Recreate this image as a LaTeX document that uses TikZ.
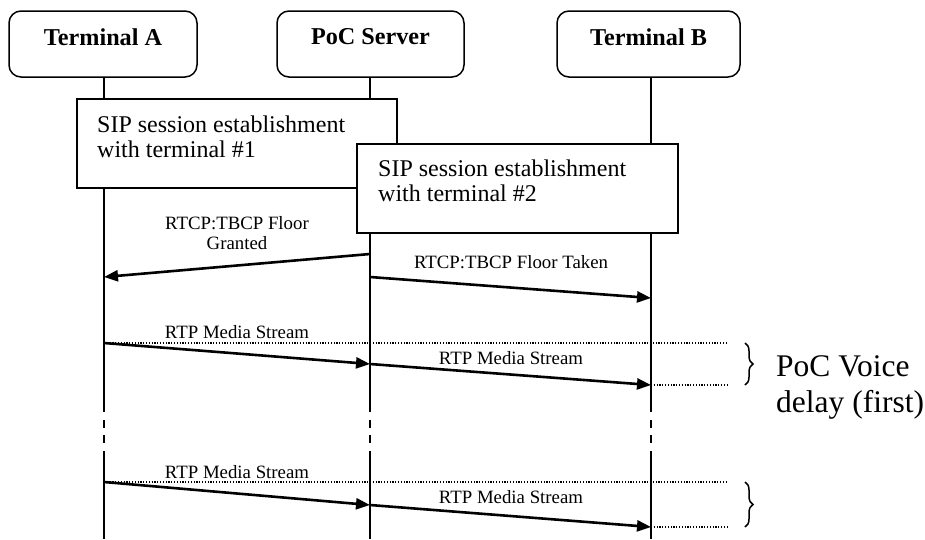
\documentclass[tikz,border=0pt]{standalone}
\usepackage{fontspec}
\setmainfont{Liberation Serif}
\usetikzlibrary{arrows.meta,decorations.pathreplacing}
\begin{document}
\begin{tikzpicture}[x=1pt,y=-1pt,
  headbox/.style={draw,line width=1.5pt,rounded corners=12pt,minimum height=66pt,inner sep=0pt},
  headtext/.style={font=\fontsize{24.2}{28}\selectfont\bfseries,inner sep=0pt},
  sipbox/.style={draw,line width=1.5pt,fill=white,minimum height=89pt,inner sep=0pt},
  siptext/.style={font=\fontsize{24}{25}\selectfont,align=left,anchor=north west,inner sep=0pt},
  life/.style={line width=1.5pt},
  msg/.style={line width=2.6pt,-{Triangle[length=14pt,width=11pt]}},
  lbl/.style={font=\fontsize{18.8}{20}\selectfont,align=center,inner sep=0pt},
  dotline/.style={line width=1.2pt,dash pattern=on 1.2pt off 1.6pt},
  bracestyle/.style={line width=1.5pt,decorate,decoration={brace,amplitude=8pt}},
  bigtext/.style={font=\fontsize{31.5}{36}\selectfont,align=left,anchor=north west,inner sep=0pt},
]
\useasboundingbox (0,0) rectangle (925,539);

% heads
\node[headbox,minimum width=188pt] (ta) at (103,44) {};
\node[headbox,minimum width=187pt] (ps) at (370.5,44) {};
\node[headbox,minimum width=183pt] (tb) at (648.5,44) {};
\node[headtext] (tat) at (103,37) {Terminal A};
\node[headtext] (pst) at (370.5,37) {PoC Server};
\node[headtext] (tbt) at (648.5,37) {Terminal B};

% lifelines
\foreach \n/\x in {ta/104,ps/370,tb/651}{
  \coordinate (\n-top) at (\x,77);
  \coordinate (\n-s1) at (\x,412);
  \coordinate (\n-d1a) at (\x,420);
  \coordinate (\n-d1b) at (\x,428);
  \coordinate (\n-d2a) at (\x,435);
  \coordinate (\n-d2b) at (\x,443);
  \coordinate (\n-s2) at (\x,451);
  \coordinate (\n-end) at (\x,539);
  \draw[life] (\n-top) -- (\n-s1);
  \draw[life] (\n-d1a) -- (\n-d1b);
  \draw[life] (\n-d2a) -- (\n-d2b);
  \draw[life] (\n-s2) -- (\n-end);
}

% SIP boxes
\node[sipbox,minimum width=320pt] (sip1) at (237,143.5) {};
\node[siptext] (sip1t) at (97,116) {SIP session establishment\\with terminal \#1};
\node[sipbox,minimum width=321pt] (sip2) at (517.5,188.5) {};
\node[siptext] (sip2t) at (378,160) {SIP session establishment\\with terminal \#2};

% message points
\coordinate (ps-m1) at (370,254);
\coordinate (ta-m1) at (104,277);
\coordinate (ps-m2) at (370,277);
\coordinate (tb-m2) at (651,298);
\coordinate (ta-r1) at (104,343);
\coordinate (ps-r1) at (370,364);
\coordinate (tb-r1) at (651,385);
\coordinate (ta-r2) at (104,482);
\coordinate (ps-r2) at (370,505);
\coordinate (tb-r2) at (651,527);
\coordinate (e1) at (728,343);
\coordinate (e2) at (728,385);
\coordinate (e3) at (728,482);
\coordinate (e4) at (728,527);
\coordinate (b1a) at (745,343);
\coordinate (b1b) at (745,385);
\coordinate (b2a) at (745,482);
\coordinate (b2b) at (745,527);

% messages
\draw[msg] (ps-m1) -- (ta-m1);
\node[lbl,anchor=north] (l1) at (237,216) {RTCP:TBCP Floor\\Granted};
\draw[msg] (ps-m2) -- (tb-m2);
\node[lbl] (l2) at (511,262) {RTCP:TBCP Floor Taken};

\draw[dotline] (ta-r1) -- (e1);
\draw[msg] (ta-r1) -- (ps-r1);
\draw[msg] (ps-r1) -- (tb-r1);
\draw[dotline] (tb-r1) -- (e2);
\node[lbl] (l3) at (237,332.5) {RTP Media Stream};
\node[lbl] (l4) at (511,358.5) {RTP Media Stream};
\draw[bracestyle] (b1a) -- (b1b);
\node[bigtext] (delay) at (776,355) {PoC Voice\\delay (first)};

\draw[dotline] (ta-r2) -- (e3);
\draw[msg] (ta-r2) -- (ps-r2);
\draw[msg] (ps-r2) -- (tb-r2);
\draw[dotline] (tb-r2) -- (e4);
\node[lbl] (l5) at (237,472.5) {RTP Media Stream};
\node[lbl] (l6) at (511,497) {RTP Media Stream};
\draw[bracestyle] (b2a) -- (b2b);
\end{tikzpicture}
\end{document}
